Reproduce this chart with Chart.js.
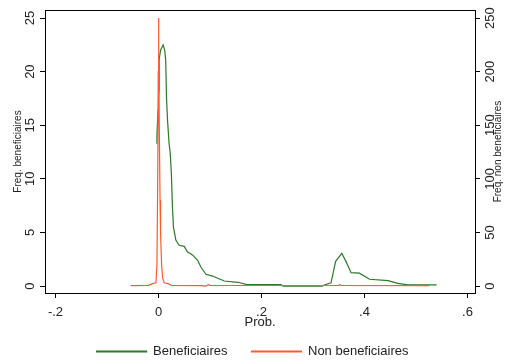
<!DOCTYPE html>
<html>
<head>
<meta charset="utf-8">
<script src="https://cdn.jsdelivr.net/npm/chart.js@4"></script>
<style>
  html, body { margin: 0; padding: 0; background: #fff; }
  #wrap { width: 505px; height: 364px; }
</style>
</head>
<body>
<div id="wrap"><canvas id="densChart"></canvas></div>
<script>
// density of beneficiaires (left axis)
const benefX = [-0.0035, -0.003, -0.0008, 0.0, 0.001, 0.0012, 0.004, 0.009, 0.012, 0.014, 0.0155, 0.0175, 0.0205, 0.0226, 0.025, 0.027, 0.029,
    0.0337, 0.040, 0.050, 0.056, 0.066, 0.076, 0.082, 0.092, 0.105, 0.115, 0.128, 0.154, 0.170, 0.238, 0.242,
    0.318, 0.322, 0.335, 0.344, 0.356, 0.364, 0.374, 0.39, 0.41, 0.446, 0.465, 0.484, 0.54];
const benefY = [13.3, 14.2, 16.4, 17.5, 18.3, 21.1, 22.0, 22.5, 22.0, 21.1, 17.6, 15.5, 13.3, 12.5, 10.5, 7.5, 5.5,
    4.3, 3.8, 3.7, 3.2, 2.9, 2.4, 1.8, 1.1, 0.93, 0.72, 0.47, 0.35, 0.16, 0.14, 0.0,
    0.0, 0.1, 0.3, 2.3, 3.05, 2.3, 1.25, 1.2, 0.63, 0.5, 0.25, 0.1, 0.1];

// density of non beneficiaires (right axis)
const nonBenefX = [-0.054, -0.02, -0.015, -0.01, -0.005, -0.003, -0.0015, -0.0005, 0.0, 0.0008, 0.0015, 0.003, 0.004, 0.006, 0.008, 0.011,
    0.02, 0.025, 0.085, 0.087, 0.093, 0.097, 0.1, 0.35, 0.352, 0.355, 0.526];
const nonBenefY = [0.3, 0.5, 1.5, 2.5, 3, 20, 100, 200, 250, 200, 150, 80, 50, 20, 8, 3,
    2, 0.5, 0.4, 0, 0.1, 1.5, 0.5, 0.5, 1.5, 0.5, 0.4];

const xTicks = [-0.2, 0, 0.2, 0.4, 0.6];
const leftTicks = [0, 5, 10, 15, 20, 25];
const rightTicks = [0, 50, 100, 150, 200, 250];

const FONT = "'Liberation Sans', Arial, sans-serif";

function fmtProb(v) {
    if (v === 0) return "0";
    let s = String(Math.round(v * 10) / 10);
    return s.replace("0.", ".");
}

const yAxisText = {
    id: "yAxisText",
    afterDraw(chart) {
        const ctx = chart.ctx;
        const area = chart.chartArea;
        ctx.save();
        // top border of the plot box
        ctx.strokeStyle = "#000";
        ctx.lineWidth = 1;
        ctx.beginPath();
        ctx.moveTo(area.left, area.top + 0.5);
        ctx.lineTo(area.right, area.top + 0.5);
        ctx.stroke();

        ctx.fillStyle = "#222";
        ctx.textAlign = "center";
        ctx.textBaseline = "middle";
        const yL = chart.scales.y;
        const yR = chart.scales.y2;
        ctx.font = "13px " + FONT;
        leftTicks.forEach(v => {
            ctx.save();
            ctx.translate(30, yL.getPixelForValue(v));
            ctx.rotate(-Math.PI / 2);
            ctx.fillText(String(v), 0, 0);
            ctx.restore();
        });
        rightTicks.forEach(v => {
            ctx.save();
            ctx.translate(490, yR.getPixelForValue(v));
            ctx.rotate(-Math.PI / 2);
            ctx.fillText(String(v), 0, 0);
            ctx.restore();
        });
        ctx.font = "10px " + FONT;
        const midY = (area.top + area.bottom) / 2;
        ctx.save();
        ctx.translate(18, midY);
        ctx.rotate(-Math.PI / 2);
        ctx.fillText("Freq. beneficiaires", 0, 0);
        ctx.restore();
        ctx.save();
        ctx.translate(498, midY);
        ctx.rotate(-Math.PI / 2);
        ctx.fillText("Freq. non beneficiaires", 0, 0);
        ctx.restore();
        ctx.restore();
    }
};

const ctx = document.getElementById("densChart").getContext("2d");
new Chart(ctx, {
    type: "line",
    data: {
        datasets: [{
            label: "Beneficiaires",
            data: benefX.map((x, i) => ({ x: x, y: benefY[i] })),
            borderColor: "#2a7a2a",
            backgroundColor: "#2a7a2a",
            borderWidth: 1.2,
            pointRadius: 0,
            tension: 0,
            yAxisID: "y",
            order: 1
        }, {
            label: "Non beneficiaires",
            data: nonBenefX.map((x, i) => ({ x: x, y: nonBenefY[i] })),
            borderColor: "#ff5a28",
            backgroundColor: "#ff5a28",
            borderWidth: 1.2,
            pointRadius: 0,
            tension: 0,
            yAxisID: "y2",
            order: 0
        }]
    },
    options: {
        responsive: true,
        maintainAspectRatio: false,
        animation: false,
        layout: { padding: { top: 10, left: 0, right: 0, bottom: -4 } },
        plugins: {
            legend: {
                position: "bottom",
                labels: {
                    boxWidth: 50,
                    boxHeight: 1,
                    padding: 24,
                    color: "#222",
                    font: { size: 13, family: FONT },
                    sort: (a, b) => a.datasetIndex - b.datasetIndex
                }
            },
            tooltip: { enabled: false }
        },
        scales: {
            x: {
                type: "linear",
                min: -0.2204,
                max: 0.6146,
                afterBuildTicks: s => { s.ticks = xTicks.map(v => ({ value: v })); },
                afterFit: s => { s.height = 28; },
                grid: { drawOnChartArea: false, drawTicks: true, tickLength: 5, color: "#000" },
                border: { color: "#000", width: 1 },
                ticks: {
                    color: "#222",
                    padding: 7,
                    maxRotation: 0,
                    font: { size: 13, family: FONT },
                    callback: v => fmtProb(v)
                },
                title: {
                    display: true,
                    text: "Prob.",
                    color: "#222",
                    padding: { top: 0, bottom: -9 },
                    font: { size: 13, family: FONT }
                }
            },
            y: {
                position: "left",
                min: -0.65,
                max: 25.75,
                afterBuildTicks: s => { s.ticks = leftTicks.map(v => ({ value: v })); },
                afterFit: s => { s.width = 45; },
                grid: { drawOnChartArea: false, drawTicks: true, tickLength: 5, color: "#000" },
                border: { color: "#000", width: 1 },
                ticks: { display: false }
            },
            y2: {
                position: "right",
                min: -6.5,
                max: 257.5,
                afterBuildTicks: s => { s.ticks = rightTicks.map(v => ({ value: v })); },
                afterFit: s => { s.width = 30; },
                grid: { drawOnChartArea: false, drawTicks: true, tickLength: 5, color: "#000" },
                border: { color: "#000", width: 1 },
                ticks: { display: false }
            }
        }
    },
    plugins: [yAxisText]
});
</script>
</body>
</html>
